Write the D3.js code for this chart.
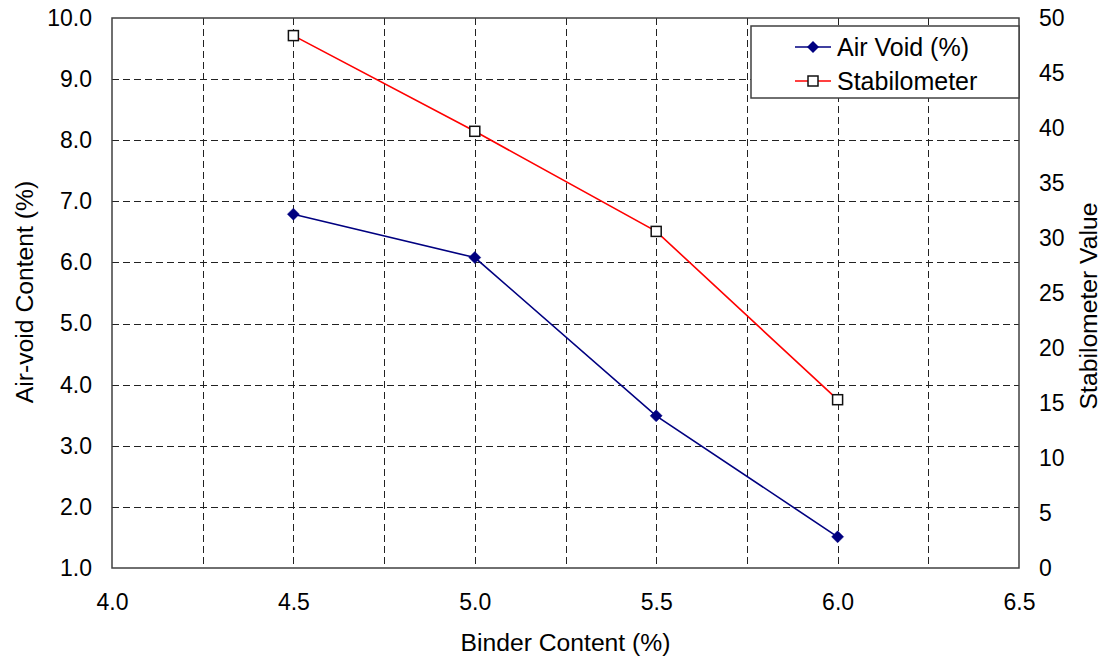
<!DOCTYPE html>
<html>
<head>
<meta charset="utf-8">
<script src="https://cdn.jsdelivr.net/npm/d3@7/dist/d3.min.js"></script>
<style>
  html, body { margin: 0; padding: 0; background: #fff; }
  svg { display: block; font-family: "Liberation Sans", Arial, sans-serif; }
</style>
</head>
<body>
<svg id="chart" width="1111" height="663"></svg>
<script>
// ---- data ----
const binder = [4.5, 5.0, 5.5, 6.0];
const airVoid = [6.79, 6.08, 3.49, 1.51];
const stabilometer = [48.4, 39.7, 30.6, 15.3];
const xTicks = [4.0, 4.5, 5.0, 5.5, 6.0, 6.5];
const xGrid = [4.25, 4.5, 4.75, 5.0, 5.25, 5.5, 5.75, 6.0, 6.25];
const yLeftTicks = [1, 2, 3, 4, 5, 6, 7, 8, 9, 10];
const yRightTicks = [0, 5, 10, 15, 20, 25, 30, 35, 40, 45, 50];
const seriesNames = ["Air Void (%)", "Stabilometer"];

// ---- layout ----
const L = 112, R = 1019, T = 18, B = 568;
const svg = d3.select("#chart");
const x = d3.scaleLinear().domain([4.0, 6.5]).range([L, R]);
const yL = d3.scaleLinear().domain([1, 10]).range([B, T]);
const yR = d3.scaleLinear().domain([0, 50]).range([B, T]);
const fs = 23;
const fsTitle = 24.7;
const fsLegend = 25;

// gridlines
const grid = svg.append("g");
grid.selectAll("line.h").data(yLeftTicks.filter(d => d > 1 && d < 10)).enter()
  .append("line")
  .attr("x1", L).attr("x2", R)
  .attr("y1", d => Math.round(yL(d)) + 0.5).attr("y2", d => Math.round(yL(d)) + 0.5)
  .attr("stroke", "#222").attr("stroke-width", 1).attr("stroke-dasharray", "7,4");
grid.selectAll("line.v").data(xGrid).enter()
  .append("line")
  .attr("x1", d => Math.round(x(d)) + 0.5).attr("x2", d => Math.round(x(d)) + 0.5)
  .attr("y1", T).attr("y2", B)
  .attr("stroke", "#222").attr("stroke-width", 1).attr("stroke-dasharray", "7,4");

// frame
svg.append("rect").attr("x", L).attr("y", T).attr("width", R - L).attr("height", B - T)
  .attr("fill", "none").attr("stroke", "#404040").attr("stroke-width", 1.5);

// axes (labels only, via d3 axes)
const axL = d3.axisLeft(yL).tickValues(yLeftTicks).tickFormat(d3.format(".1f")).tickSize(0).tickPadding(20);
const axR = d3.axisRight(yR).tickValues(yRightTicks).tickFormat(d3.format("d")).tickSize(0).tickPadding(20);
const axB = d3.axisBottom(x).tickValues(xTicks).tickFormat(d3.format(".1f")).tickSize(0).tickPadding(26);

function styleAxis(g) {
  g.select(".domain").remove();
  g.selectAll("text").attr("font-size", fs).attr("fill", "#000")
    .attr("font-family", "'Liberation Sans', Arial, sans-serif");
}
svg.append("g").attr("transform", `translate(${L},0)`).call(axL).call(styleAxis);
svg.append("g").attr("transform", `translate(${R},0)`).call(axR).call(styleAxis);
svg.append("g").attr("transform", `translate(0,${B})`).call(axB).call(styleAxis);

// axis titles
svg.append("text").attr("x", (L + R) / 2).attr("y", 651).attr("text-anchor", "middle")
  .attr("font-size", fsTitle).text("Binder Content (%)");
svg.append("text").attr("transform", `translate(33,292) rotate(-90)`)
  .attr("text-anchor", "middle").attr("font-size", fsTitle).text("Air-void Content (%)");
svg.append("text").attr("transform", `translate(1097,306) rotate(-90)`)
  .attr("text-anchor", "middle").attr("font-size", fsTitle).text("Stabilometer Value");

// series
const airPts = binder.map((b, i) => [b, airVoid[i]]);
const stabPts = binder.map((b, i) => [b, stabilometer[i]]);
const lineL = d3.line().x(d => x(d[0])).y(d => yL(d[1]));
const lineR = d3.line().x(d => x(d[0])).y(d => yR(d[1]));

svg.append("path").attr("d", lineR(stabPts)).attr("fill", "none")
  .attr("stroke", "#ff0000").attr("stroke-width", 1.6);
svg.append("path").attr("d", lineL(airPts)).attr("fill", "none")
  .attr("stroke", "#000080").attr("stroke-width", 1.6);

function diamondPath(cx, cy, r) {
  return `M${cx},${cy - r}L${cx + r},${cy}L${cx},${cy + r}L${cx - r},${cy}Z`;
}
svg.selectAll("path.av").data(airPts).enter().append("path")
  .attr("d", d => diamondPath(x(d[0]), yL(d[1]), 6))
  .attr("fill", "#000080").attr("stroke", "#000080").attr("stroke-width", 0.5);
svg.selectAll("rect.st").data(stabPts).enter().append("rect")
  .attr("x", d => x(d[0]) - 5).attr("y", d => yR(d[1]) - 5)
  .attr("width", 10).attr("height", 10)
  .attr("fill", "#fff").attr("stroke", "#111").attr("stroke-width", 1.5);

// legend
const lg = svg.append("g");
lg.append("rect").attr("x", 751).attr("y", 26).attr("width", 268).attr("height", 72)
  .attr("fill", "#fff").attr("stroke", "#404040").attr("stroke-width", 1.5);
const lyPos = [47, 81];
const colors = ["#000080", "#ff0000"];
seriesNames.forEach((name, i) => {
  lg.append("line").attr("x1", 795).attr("x2", 831).attr("y1", lyPos[i]).attr("y2", lyPos[i])
    .attr("stroke", colors[i]).attr("stroke-width", 1.6);
  if (i === 0) {
    lg.append("path").attr("d", diamondPath(813, lyPos[i], 6)).attr("fill", "#000080");
  } else {
    lg.append("rect").attr("x", 808).attr("y", lyPos[i] - 5).attr("width", 10).attr("height", 10)
      .attr("fill", "#fff").attr("stroke", "#111").attr("stroke-width", 1.5);
  }
  lg.append("text").attr("x", 837).attr("y", lyPos[i]).attr("dy", "0.35em")
    .attr("font-size", fsLegend).text(name);
});
</script>
</body>
</html>
